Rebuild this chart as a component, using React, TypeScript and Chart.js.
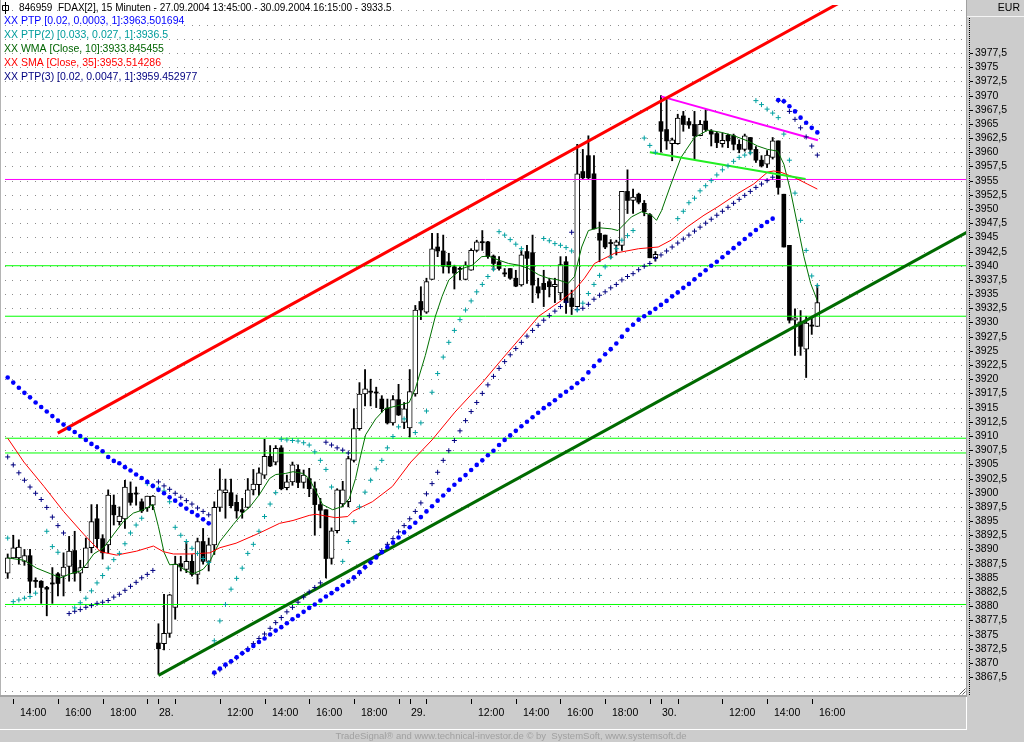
import React, { useEffect, useRef } from 'react';
import { Chart, registerables } from 'chart.js';

Chart.register(...registerables);

const N = null;

// ---- OHLC, one entry per 15-minute bar (index 0 = 27.09. 13:45) ----
const OPEN = [
  3885.8, 3888.5, 3888.5, 3887.9, 3888.9, 3884.4, 3884.4, 3883.3, 3884.0, 3885.7,
  3885.3, 3887.0, 3889.8, 3885.8, 3886.8, 3890.3, 3895.4, 3891.9, 3890.8, 3897.8,
  3894.9, 3895.4, 3899.9, 3899.9, 3898.4, 3897.3, 3897.8, 3873.5, 3873.4, 3875.2,
  3879.8, 3887.5, 3886.5, 3887.9, 3885.6, 3891.4, 3887.9, 3890.8, 3897.4, 3900.0,
  3900.0, 3898.3, 3897.0, 3897.4, 3900.5, 3901.4, 3903.1, 3906.4, 3905.4, 3907.9,
  3900.9, 3901.9, 3904.1, 3901.8, 3902.5, 3900.7, 3897.9, 3897.0, 3888.4, 3893.3,
  3898.0, 3898.4, 3905.7, 3911.3, 3917.4, 3917.8, 3917.7, 3916.5, 3914.9, 3912.3,
  3916.4, 3912.4, 3911.4, 3917.4, 3933.7, 3931.8, 3937.6, 3943.3, 3942.6, 3940.7,
  3939.8, 3939.5, 3937.6, 3939.2, 3942.7, 3944.2, 3944.2, 3941.7, 3940.7, 3938.7,
  3939.5, 3937.8, 3936.6, 3942.5, 3942.3, 3936.3, 3936.9, 3937.2, 3936.3, 3935.2,
  3940.7, 3934.3, 3932.8, 3956.6, 3959.4, 3956.2, 3945.7, 3945.4, 3944.0, 3943.6,
  3943.6, 3953.1, 3951.5, 3952.6, 3951.0, 3949.0, 3941.4, 3965.4, 3964.0, 3961.5,
  3961.5, 3966.4, 3965.4, 3964.9, 3962.9, 3965.5, 3963.7, 3963.3, 3961.5, 3963.0,
  3962.9, 3961.4, 3960.5, 3962.6, 3960.5, 3958.6, 3957.9, 3959.1, 3962.0, 3952.6,
  3943.6, 3930.4, 3930.1, 3925.3, 3929.5, 3929.3,
];
const HIGH = [
  3889.2, 3892.5, 3891.7, 3890.0, 3890.0, 3885.0, 3884.5, 3883.5, 3886.8, 3885.9,
  3889.4, 3892.3, 3893.2, 3888.1, 3892.0, 3897.9, 3897.9, 3892.6, 3900.5, 3899.6,
  3897.5, 3902.2, 3901.9, 3901.0, 3898.9, 3899.4, 3899.5, 3876.9, 3882.1, 3882.1,
  3888.8, 3888.8, 3891.4, 3889.1, 3892.0, 3893.7, 3892.0, 3898.4, 3904.2, 3902.4,
  3902.4, 3899.6, 3899.0, 3902.5, 3904.1, 3904.4, 3909.4, 3908.3, 3908.3, 3908.3,
  3903.1, 3905.4, 3904.9, 3904.0, 3904.3, 3901.9, 3899.0, 3897.0, 3893.8, 3900.7,
  3902.0, 3906.4, 3914.8, 3919.4, 3921.7, 3920.0, 3918.6, 3917.1, 3916.5, 3917.1,
  3919.1, 3915.9, 3921.7, 3933.0, 3936.3, 3937.8, 3945.7, 3945.7, 3945.4, 3942.2,
  3940.1, 3939.8, 3940.7, 3943.0, 3944.5, 3946.2, 3944.3, 3941.9, 3941.6, 3939.5,
  3939.5, 3939.2, 3942.7, 3943.6, 3945.4, 3937.8, 3939.2, 3937.8, 3937.8, 3941.6,
  3941.6, 3935.7, 3961.4, 3960.5, 3962.9, 3959.4, 3947.7, 3945.4, 3944.6, 3944.5,
  3953.1, 3956.9, 3953.5, 3952.8, 3951.5, 3949.2, 3942.5, 3970.0, 3969.3, 3962.5,
  3966.7, 3967.2, 3966.0, 3967.2, 3965.6, 3967.5, 3964.0, 3963.5, 3963.4, 3963.2,
  3963.2, 3962.2, 3963.2, 3962.6, 3961.0, 3959.4, 3960.3, 3962.6, 3962.0, 3952.6,
  3943.6, 3932.4, 3932.1, 3931.1, 3931.1, 3936.6,
];
const LOW = [
  3884.9, 3888.4, 3887.4, 3887.2, 3882.3, 3883.3, 3880.5, 3878.3, 3880.5, 3881.8,
  3881.8, 3884.4, 3884.4, 3882.7, 3886.8, 3889.4, 3890.3, 3888.3, 3889.4, 3894.3,
  3894.3, 3893.7, 3897.8, 3897.8, 3896.5, 3896.7, 3897.0, 3868.0, 3872.3, 3874.5,
  3877.7, 3886.2, 3885.9, 3885.3, 3883.9, 3887.4, 3886.2, 3889.1, 3896.7, 3895.5,
  3897.3, 3895.5, 3895.5, 3897.3, 3899.6, 3899.6, 3902.5, 3904.6, 3904.9, 3900.5,
  3900.5, 3901.3, 3900.9, 3900.8, 3899.3, 3892.5, 3893.8, 3885.0, 3887.4, 3892.9,
  3897.5, 3897.5, 3905.4, 3911.0, 3915.3, 3915.3, 3915.0, 3914.2, 3912.1, 3911.9,
  3913.6, 3911.3, 3909.8, 3917.0, 3930.5, 3931.6, 3937.6, 3941.6, 3938.7, 3938.7,
  3935.9, 3937.5, 3937.5, 3939.2, 3942.5, 3942.7, 3941.3, 3939.2, 3939.2, 3938.1,
  3937.6, 3936.3, 3936.4, 3936.9, 3933.5, 3934.3, 3932.8, 3934.5, 3933.5, 3934.0,
  3931.6, 3931.4, 3932.8, 3955.3, 3955.3, 3946.5, 3940.7, 3943.0, 3941.3, 3941.9,
  3942.7, 3949.2, 3949.2, 3950.9, 3948.8, 3941.4, 3940.8, 3960.0, 3960.5, 3958.5,
  3961.4, 3963.7, 3964.2, 3958.8, 3962.9, 3963.7, 3961.1, 3960.8, 3960.9, 3960.8,
  3960.4, 3959.9, 3960.2, 3959.7, 3958.2, 3957.4, 3957.3, 3958.8, 3952.6, 3943.3,
  3929.9, 3924.2, 3924.2, 3920.3, 3927.9, 3929.3,
];
const CLOSE = [
  3888.5, 3890.3, 3890.4, 3888.9, 3884.4, 3884.5, 3883.3, 3883.0, 3884.0, 3884.0,
  3886.9, 3889.7, 3885.8, 3886.8, 3890.3, 3894.9, 3891.9, 3889.4, 3899.6, 3896.1,
  3895.9, 3901.0, 3898.3, 3899.8, 3896.8, 3899.4, 3899.4, 3872.5, 3875.2, 3882.0,
  3887.4, 3886.9, 3887.9, 3885.6, 3891.4, 3887.9, 3890.8, 3897.4, 3900.5, 3900.5,
  3897.7, 3896.8, 3896.6, 3900.5, 3901.5, 3903.5, 3906.4, 3904.7, 3907.8, 3900.7,
  3901.9, 3904.9, 3901.8, 3903.1, 3900.7, 3897.9, 3896.9, 3888.4, 3893.3, 3900.5,
  3900.5, 3906.0, 3911.3, 3917.4, 3918.3, 3917.8, 3917.6, 3914.8, 3912.3, 3916.4,
  3913.7, 3914.8, 3917.8, 3932.2, 3932.2, 3937.2, 3943.0, 3942.6, 3939.9, 3939.8,
  3938.7, 3939.4, 3940.1, 3942.7, 3944.2, 3944.1, 3941.6, 3940.4, 3939.5, 3938.6,
  3937.8, 3936.4, 3941.9, 3941.3, 3936.6, 3935.2, 3935.8, 3936.3, 3936.7, 3940.2,
  3933.5, 3932.8, 3956.2, 3955.5, 3955.5, 3946.5, 3944.5, 3943.3, 3944.0, 3944.2,
  3953.1, 3951.5, 3952.1, 3951.2, 3949.5, 3941.4, 3942.0, 3963.7, 3962.0, 3962.2,
  3966.0, 3964.9, 3964.8, 3962.9, 3964.9, 3964.0, 3963.2, 3961.7, 3962.1, 3962.0,
  3961.4, 3960.5, 3962.9, 3960.5, 3958.6, 3957.6, 3959.5, 3962.0, 3953.8, 3943.3,
  3930.4, 3930.8, 3925.8, 3929.9, 3929.4, 3933.5,
];

// ---- PTP [0.02, 0.0003, 1] (big blue dots) ----
const PTP1 = [
  3920.3, 3919.4, 3918.5, 3917.6, 3916.8, 3915.9, 3915.1, 3914.3, 3913.5, 3912.7,
  3912.0, 3911.3, 3910.7, 3910.0, 3909.3, 3908.6, 3908.0, 3907.3, 3906.3, 3905.6,
  3905.2, 3904.5, 3903.9, 3903.2, 3902.6, 3901.9, 3901.2, 3900.5, 3899.9, 3899.2,
  3898.6, 3897.9, 3897.2, 3896.6, 3896.0, 3895.3, 3894.6, 3868.3, 3869.0, 3869.7,
  3870.3, 3871.0, 3871.7, 3872.3, 3873.0, 3873.7, 3874.3, 3875.0, 3875.7, 3876.3,
  3877.0, 3877.7, 3878.3, 3879.0, 3879.7, 3880.3, 3881.0, 3881.7, 3882.3, 3883.0,
  3883.7, 3884.3, 3885.1, 3886.0, 3886.9, 3887.7, 3888.6, 3889.5, 3890.4, 3891.2,
  3892.1, 3893.0, 3893.9, 3894.7, 3895.7, 3896.7, 3897.6, 3898.6, 3899.5, 3900.5,
  3901.4, 3902.3, 3903.1, 3904.0, 3904.9, 3905.7, 3906.6, 3907.4, 3908.4, 3909.3,
  3910.1, 3910.9, 3911.7, 3912.5, 3913.3, 3914.1, 3914.9, 3915.6, 3916.3, 3917.1,
  3917.8, 3918.5, 3919.3, 3920.0, 3921.2, 3922.3, 3923.3, 3924.4, 3925.3, 3926.3,
  3927.5, 3928.7, 3929.6, 3930.5, 3931.1, 3931.7, 3932.4, 3933.1, 3933.8, 3934.6,
  3935.3, 3936.1, 3936.8, 3937.6, 3938.4, 3939.2, 3940.0, 3940.7, 3941.5, 3942.3,
  3943.1, 3943.9, 3944.7, 3945.5, 3946.3, 3947.0, 3947.7, 3948.3, 3969.2, 3969.0,
  3968.1, 3967.2, 3966.1, 3965.2, 3964.3, 3963.5,
];

// ---- PTP(2) [0.033, 0.027, 1] (teal crosses) ----
const PTP2 = [
  3892.0, 3880.8, 3881.1, 3881.4, 3881.7, 3882.3, N, 3893.2, 3890.5, 3889.5,
  N, N, 3879.7, 3880.6, 3881.4, 3882.7, 3884.1, 3885.4, 3886.7, 3888.2,
  3889.3, 3891.0, 3892.9, 3894.3, 3895.5, 3901.6, 3901.2, 3900.8, 3900.3, 3898.4,
  3893.9, 3892.5, 3891.4, 3890.2, 3889.3, 3888.4, 3887.7, 3873.9, 3877.4, 3880.3,
  3883.0, 3884.9, 3886.7, 3889.3, 3890.9, 3893.2, 3895.8, 3898.0, 3900.0, 3909.4,
  3909.3, 3909.2, 3909.1, 3908.8, 3908.4, 3907.2, 3905.7, 3904.1, 3901.0, N,
  3887.9, 3891.4, 3894.9, 3897.5, 3900.1, 3902.2, 3904.2, 3905.7, 3907.9, 3909.9,
  3911.6, 3913.0, N, 3910.6, 3912.3, 3914.4, 3917.7, 3921.0, 3923.9, 3926.5,
  3928.6, 3930.5, 3932.2, 3933.8, 3935.4, 3936.7, 3938.1, 3939.4, 3946.0, 3945.4,
  3944.6, 3943.8, 3943.0, N, N, N, 3944.8, 3944.4, 3943.9, 3943.6,
  3943.2, 3942.6, 3932.2, 3933.4, 3935.1, 3936.7, 3938.3, 3939.8, 3941.5, 3943.0,
  3944.5, 3945.3, 3946.2, N, 3962.5, 3961.2, 3960.0, N, N, N,
  3948.3, 3949.6, 3951.1, 3951.9, 3953.2, 3954.1, 3955.0, 3956.0, 3956.9, 3957.6,
  3958.4, 3959.1, 3959.5, 3959.9, 3969.1, 3968.4, 3967.6, 3966.9, 3966.1, 3963.2,
  3958.6, 3952.8, 3948.0, 3942.7, 3938.2, 3936.5,
];

// ---- PTP(3) [0.02, 0.0047, 1] (navy crosses) ----
const PTP3 = [
  3906.3, 3904.9, 3903.5, 3902.2, 3901.0, 3899.9, 3898.8, 3897.4, 3895.7, 3894.2,
  3892.9, 3878.7, 3879.1, 3879.4, 3879.8, 3880.1, 3880.5, 3880.7, 3881.0, 3881.6,
  3882.1, 3882.8, 3883.5, 3884.2, 3885.0, 3885.6, 3886.3, 3901.9, 3901.2, 3900.6,
  3899.9, 3899.2, 3898.6, 3898.0, 3897.3, 3896.7, 3896.1, 3868.1, 3868.8, 3869.5,
  3870.2, 3870.9, 3871.7, 3872.5, 3873.4, 3874.3, 3875.1, 3876.1, 3877.1, 3878.0,
  3879.0, 3879.8, 3880.7, 3881.6, 3882.5, 3883.3, 3884.1, 3908.9, 3908.4, 3907.9,
  3907.5, 3907.0, 3884.9, 3885.8, 3886.8, 3887.7, 3888.8, 3889.8, 3890.9, 3891.9,
  3893.1, 3894.2, 3895.4, 3896.7, 3898.2, 3899.8, 3901.6, 3903.6, 3905.7, 3907.4,
  3909.2, 3910.9, 3912.7, 3914.3, 3915.9, 3917.5, 3919.0, 3920.5, 3921.9, 3923.1,
  3924.3, 3925.4, 3926.5, 3927.6, 3928.6, 3929.5, 3930.4, 3931.2, 3932.0, 3932.8,
  3933.6, 3945.9, 3932.3, 3932.5, 3933.2, 3934.1, 3934.8, 3935.4, 3936.1, 3936.7,
  3937.5, 3938.1, 3938.6, 3939.3, 3939.9, 3940.4, 3941.3, 3941.9, 3942.6, 3943.3,
  3944.0, 3944.7, 3945.4, 3946.1, 3946.8, 3947.5, 3948.2, 3948.9, 3949.6, 3950.3,
  3951.0, 3951.7, 3952.4, 3953.1, 3953.8, 3954.4, 3955.0, 3955.6, 3969.1, 3969.0,
  3967.2, 3965.8, 3964.3, 3962.7, 3961.1, 3959.5,
];

// ---- WMA [Close, 10] (bar index, value) ----
const WMA_X = [0, 2.9, 5.2, 7.7, 9.5, 11.2, 13.0, 14.1, 15.4, 17.2, 19.0, 20.7, 22.5, 24.3, 26.0, 27, 28, 29, 30.2, 32.0, 33.2, 35.0, 36.2, 38.0, 40.4, 42.1, 43.3, 45.1, 46.9, 48.0, 49.8, 51.1, 52.8, 54.0, 55.2, 56.4, 58.2, 60.0, 61.2, 62.3, 63.2, 64.1, 65.9, 67.6, 70.1, 71.9, 73.0, 74.8, 76.6, 77.8, 79.0, 81.4, 83.2, 84.9, 86.1, 87.9, 89.7, 91.5, 93.3, 95.1, 96.8, 98.6, 100.4, 101.5, 102.8, 104.0, 105.8, 108.1, 109.3, 110.5, 111.7, 113.5, 115.3, 116.2, 117.1, 118.8, 120.6, 123.0, 125.4, 127.8, 130.1, 132.5, 134.3, 136.1, 137.9, 139.0, 140.2, 141.4, 142.6, 143.8, 145.0];
const WMA_Y = [3888.5, 3888.1, 3886.7, 3885.7, 3885.0, 3885.7, 3886.2, 3887.4, 3889.2, 3890.3, 3892.7, 3894.9, 3896.4, 3897.0, 3897.9, 3894.0, 3889.5, 3887.3, 3887.4, 3886.2, 3885.7, 3886.5, 3887.9, 3891.4, 3894.4, 3896.4, 3897.4, 3899.7, 3902.5, 3903.2, 3903.4, 3903.7, 3903.4, 3902.5, 3900.2, 3897.9, 3897.0, 3897.6, 3899.0, 3902.5, 3906.5, 3910.2, 3913.0, 3914.8, 3915.4, 3915.9, 3918.3, 3924.2, 3931.1, 3934.6, 3937.5, 3939.5, 3940.1, 3941.6, 3941.7, 3941.0, 3940.4, 3940.1, 3939.5, 3938.4, 3937.8, 3937.5, 3936.9, 3938.1, 3943.3, 3946.2, 3946.7, 3946.5, 3946.2, 3947.4, 3948.6, 3949.5, 3948.9, 3948.0, 3949.7, 3954.4, 3959.1, 3962.6, 3963.9, 3963.5, 3962.9, 3962.0, 3961.1, 3960.5, 3960.2, 3957.9, 3953.2, 3947.4, 3941.6, 3936.9, 3933.85];

// ---- SMA [Close, 35] (bar index, value) ----
const SMA_X = [0, 2.9, 6.5, 10.0, 13.6, 16.6, 19.5, 23.1, 26.1, 27.9, 29.7, 32.6, 36.2, 38.0, 40.9, 45.1, 48.7, 51.1, 54.0, 55.2, 58.7, 60.9, 61.8, 65.3, 68.9, 72.2, 76.0, 80.1, 85.0, 88.5, 92.1, 95.1, 99.2, 101.5, 103.3, 105.1, 108.7, 113.0, 116.5, 118.8, 121.8, 124.7, 127.2, 130.7, 133.6, 136.1, 137.2, 138.4, 140.8, 143.2, 145.0];
const SMA_Y = [3909.6, 3905.4, 3901.1, 3896.7, 3892.7, 3889.6, 3889.0, 3889.7, 3890.6, 3889.6, 3889.2, 3889.2, 3889.4, 3890.3, 3891.1, 3892.9, 3894.6, 3895.1, 3896.0, 3896.2, 3895.6, 3895.8, 3896.7, 3898.4, 3901.1, 3905.4, 3909.3, 3914.2, 3919.4, 3923.5, 3927.6, 3931.1, 3933.9, 3935.7, 3937.8, 3940.4, 3942.2, 3943.0, 3943.3, 3944.5, 3946.9, 3948.9, 3950.4, 3952.7, 3954.4, 3956.5, 3956.7, 3956.5, 3955.6, 3954.4, 3953.51];

// ---- drawn trend lines (bar index / price end points) ----
const RED_TREND_X = [8.97, 150];
const RED_TREND_Y = [3910.5, 3986.9];
const GREEN_TREND_X = [27.0, 172];
const GREEN_TREND_Y = [3867.8, 3946.0];
const LIME_SEG_X = [115, 142.9];
const LIME_SEG_Y = [3960.0, 3955.3];
const MAGENTA_SEG_X = [117, 145.1];
const MAGENTA_SEG_Y = [3969.85, 3962.1];

// ---- horizontal levels ----
const H_LEVELS = [3955.2, 3940.0, 3931.1, 3909.6, 3907.0, 3880.3];
const H_COLORS = ['#ff00ff', '#00ff00', '#00ff00', '#00ff00', '#00ff00', '#00ff00'];

// ---- time axis ticks (bar index) ----
const X_TICKS = [1, 9, 17, 25, 27, 30, 38, 46, 54, 62, 70, 72, 75, 83, 91, 99, 107, 115, 117, 120, 128, 136, 144];
const X_LABELS = ['14:00', '16:00', '18:00', '', '28.', '', '12:00', '14:00', '16:00', '18:00', '', '29.', '', '12:00', '14:00', '16:00', '18:00', '', '30.', '', '12:00', '14:00', '16:00'];

const Y_LABEL_MIN = 3867.5;
const Y_LABEL_MAX = 3977.5;
const Y_STEP = 2.5;

const TITLE = '846959  FDAX[2], 15 Minuten - 27.09.2004 13:45:00 - 30.09.2004 16:15:00 - 3933.5';
const LEGEND = [
  'XX PTP [0.02, 0.0003, 1]:3963.501694',
  'XX PTP(2) [0.033, 0.027, 1]:3936.5',
  'XX WMA [Close, 10]:3933.845455',
  'XX SMA [Close, 35]:3953.514286',
  'XX PTP(3) [0.02, 0.0047, 1]:3959.452977',
];
const LEGEND_COLORS = ['#0000ff', '#009c9c', '#006400', '#ff0000', '#000080'];
const FOOTER = 'TradeSignal\u00ae and www.technical-investor.de \u00a9 by  SystemSoft, www.systemsoft.de';

const X_MIN = -0.4815;
const X_MAX = 171.625;
const Y_MAX = 3985.95;
const Y_MIN = 3864.17;

const FAMILY = '"Liberation Sans", Arial, sans-serif';
const FONT = '10.5px ' + FAMILY;

const decorPlugin = {
  id: 'decor',
  beforeDraw(chart: any) {
    const { ctx } = chart;
    const y = chart.scales.y;
    ctx.save();
    ctx.fillStyle = '#cccccc';
    ctx.fillRect(0, 0, 1024, 742);
    ctx.fillStyle = '#ffffff';
    ctx.fillRect(0, 0, 966, 696);
    ctx.fillStyle = '#b4b4b4';
    ctx.fillRect(0, 0, 1, 696);
    // dotted horizontal grid
    ctx.fillStyle = '#8c8c8c';
    for (let v = 3865; v <= 3985.01; v += Y_STEP) {
      const py = Math.round(y.getPixelForValue(v));
      for (let px = 5; px < 964; px += 7.47) ctx.fillRect(Math.round(px), py, 1, 1);
    }
    ctx.restore();
  },
  afterDraw(chart: any) {
    const { ctx } = chart;
    const x = chart.scales.x;
    const y = chart.scales.y;
    ctx.save();
    // right axis panel
    ctx.fillStyle = '#cccccc';
    ctx.fillRect(967, 0, 57, 742);
    ctx.fillStyle = '#a0a0a0';
    ctx.fillRect(966, 0, 1, 697);
    ctx.fillStyle = '#f4f4f4';
    ctx.fillRect(967, 16, 57, 1);
    // bottom axis panel
    ctx.fillStyle = '#cccccc';
    ctx.fillRect(0, 696, 967, 46);
    ctx.fillStyle = '#a4a4a4';
    ctx.fillRect(0, 695, 967, 2);
    ctx.fillStyle = '#ffffff';
    ctx.fillRect(0, 729, 967, 1);
    ctx.fillRect(966, 697, 1, 33);

    // resize grip
    ctx.fillStyle = '#ffffff';
    ctx.fillRect(958, 688, 8, 7);
    ctx.strokeStyle = '#606060';
    ctx.lineWidth = 1;
    ctx.beginPath();
    ctx.moveTo(959.5, 694.5);
    ctx.lineTo(965.5, 688.5);
    ctx.moveTo(962.5, 694.5);
    ctx.lineTo(965.5, 691.5);
    ctx.stroke();

    // EUR header
    ctx.fillStyle = '#000000';
    ctx.font = FONT;
    ctx.textBaseline = 'middle';
    ctx.textAlign = 'right';
    ctx.fillText('EUR', 1020, 8);

    // dotted y axis line
    for (let py = 18; py < 696; py += 2) ctx.fillRect(969, py, 1, 1);

    // y labels
    ctx.textAlign = 'left';
    for (let v = Y_LABEL_MIN; v <= Y_LABEL_MAX + 0.01; v += Y_STEP) {
      const py = Math.round(y.getPixelForValue(v));
      ctx.fillRect(970, py, 3, 1);
      const txt = (Math.round(v * 10) / 10).toString().replace('.', ',');
      ctx.fillText(txt, 975, py + 0.5);
    }

    // x ticks + labels
    X_TICKS.forEach((t, i) => {
      const px = Math.round(x.getPixelForValue(t));
      ctx.fillRect(px, 699, 1, 5);
      const lab = X_LABELS[i];
      if (lab) {
        const isDate = lab.endsWith('.');
        ctx.fillText(lab, px + (isDate ? 1 : 7), 713);
      }
    });

    // title + icon
    ctx.strokeStyle = '#000000';
    ctx.beginPath();
    ctx.moveTo(5.5, 2);
    ctx.lineTo(5.5, 14);
    ctx.rect(2.5, 5.5, 6, 5);
    ctx.stroke();
    ctx.fillStyle = '#000000';
    ctx.font = '10px ' + FAMILY;
    ctx.fillText(TITLE, 19, 8);

    // legend
    ctx.font = FONT;
    LEGEND.forEach((s, i) => {
      ctx.fillStyle = LEGEND_COLORS[i];
      ctx.fillText(s, 4, 21.5 + i * 14);
    });

    // footer
    ctx.fillStyle = '#a0a0a0';
    ctx.font = '9.5px ' + FAMILY;
    ctx.textAlign = 'center';
    ctx.fillText(FOOTER, 511, 736);
    ctx.restore();
  },
};

export default function App() {
  const ref = useRef<HTMLCanvasElement>(null);

  useEffect(() => {
    document.body.style.margin = '0';
    const canvas = ref.current!;
    const idx = OPEN.map((_, i) => i);

    const wicks = idx.map((i) => ({ x: i, y: [LOW[i], HIGH[i]] }));
    const upBodies: any[] = [];
    const downBodies: any[] = [];
    idx.forEach((i) => {
      const o = OPEN[i];
      const c = CLOSE[i];
      const lo = Math.min(o, c);
      const hi = Math.max(o, c);
      if (hi - lo < 0.3) {
        const m = (hi + lo) / 2;
        downBodies.push({ x: i, y: [m - 0.1, m + 0.1] });
      } else if (c > o) {
        upBodies.push({ x: i, y: [lo, hi] });
      } else {
        downBodies.push({ x: i, y: [lo, hi] });
      }
    });

    const pts = (arr: (number | null)[]) =>
      arr.map((v, i) => (v == null ? null : { x: i, y: v })).filter((p) => p !== null);

    const dots = (arr: (number | null)[], color: string, style: string, r: number, bw: number) => ({
      type: 'line',
      data: pts(arr),
      showLine: false,
      pointStyle: style,
      pointRadius: r,
      pointBackgroundColor: color,
      pointBorderColor: color,
      pointBorderWidth: bw,
      order: 1,
    });

    const line = (xs: number[], ys: number[], color: string, width: number, order: number) => ({
      type: 'line',
      data: xs.map((xv, i) => ({ x: xv, y: ys[i] })),
      borderColor: color,
      borderWidth: width,
      pointRadius: 0,
      tension: 0,
      fill: false,
      order,
    });

    const datasets: any[] = [
      { type: 'bar', data: wicks, backgroundColor: '#000000', barThickness: 1.2, grouped: false, order: 20 },
      { type: 'bar', data: upBodies, backgroundColor: '#ffffff', borderColor: '#000000', borderWidth: 1, borderSkipped: false, barThickness: 5, grouped: false, order: 19 },
      { type: 'bar', data: downBodies, backgroundColor: '#000000', barThickness: 4, grouped: false, order: 19 },
    ];
    H_LEVELS.forEach((v, i) => datasets.push(line([X_MIN, X_MAX], [v, v], H_COLORS[i], 1, 15)));
    datasets.push(line(SMA_X, SMA_Y, '#ff0000', 1, 6));
    datasets.push(line(WMA_X, WMA_Y, '#007000', 1, 6));
    datasets.push(line(RED_TREND_X, RED_TREND_Y, '#ff0000', 3, 4));
    datasets.push(line(GREEN_TREND_X, GREEN_TREND_Y, '#006a00', 3, 4));
    datasets.push(line(LIME_SEG_X, LIME_SEG_Y, '#22ee22', 2, 4));
    datasets.push(line(MAGENTA_SEG_X, MAGENTA_SEG_Y, '#ff00ff', 2, 4));
    datasets.push(dots(PTP1, '#0000ff', 'circle', 2.3, 0));
    datasets.push(dots(PTP2, '#00a0a0', 'cross', 2.5, 1));
    datasets.push(dots(PTP3, '#000080', 'cross', 2.5, 1));

    const chart = new Chart(canvas, {
      type: 'bar',
      data: { datasets },
      options: {
        responsive: false,
        animation: false,
        events: [],
        layout: { padding: { left: 1, right: 58, top: 0, bottom: 46 } },
        plugins: { legend: { display: false }, tooltip: { enabled: false } },
        scales: {
          x: { type: 'linear', min: X_MIN, max: X_MAX, offset: false, display: false },
          y: { type: 'linear', min: Y_MIN, max: Y_MAX, display: false },
        },
      } as any,
      plugins: [decorPlugin],
    } as any);

    return () => chart.destroy();
  }, []);

  return (
    <div style={{ position: 'absolute', left: 0, top: 0, width: 1024, height: 742, background: '#cccccc' }}>
      <canvas ref={ref} width={1024} height={742} style={{ display: 'block', width: 1024, height: 742 }} />
    </div>
  );
}
